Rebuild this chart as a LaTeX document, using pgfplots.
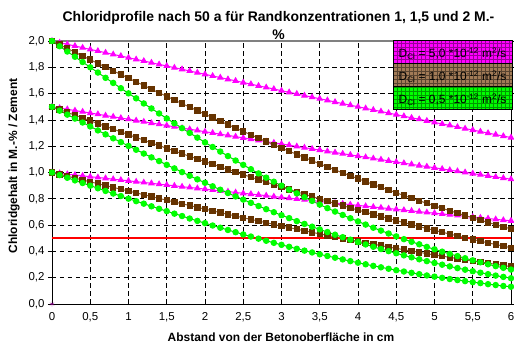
\documentclass[border=0pt]{standalone}
\usepackage{fontspec}
\setmainfont{Liberation Sans}
\usepackage{pgfplots}
\usepackage{pgfplotstable}
\pgfplotsset{compat=1.18}

\definecolor{mag}{HTML}{FF00FF}
\definecolor{brownmark}{HTML}{663300}
\definecolor{brownline}{HTML}{8B5A2B}
\definecolor{brownleg}{HTML}{A27B57}
\definecolor{grn}{HTML}{00FF00}
\definecolor{grnline}{HTML}{00D000}

% x, C0=1.0, C0=1.5, C0=2.0 for D = 5.0e-12 m2/s
\pgfplotstableread{
x   a     b     c
0.0 1.000 1.500 2.000
0.1 0.994 1.490 1.987
0.2 0.987 1.481 1.975
0.3 0.981 1.471 1.962
0.4 0.975 1.462 1.949
0.5 0.968 1.452 1.936
0.6 0.962 1.443 1.924
0.7 0.956 1.433 1.911
0.8 0.949 1.424 1.898
0.9 0.943 1.414 1.886
1.0 0.937 1.405 1.873
1.1 0.930 1.395 1.860
1.2 0.924 1.386 1.848
1.3 0.918 1.376 1.835
1.4 0.911 1.367 1.822
1.5 0.905 1.357 1.810
1.6 0.899 1.348 1.797
1.7 0.892 1.338 1.785
1.8 0.886 1.329 1.772
1.9 0.880 1.320 1.759
2.0 0.874 1.310 1.747
2.1 0.867 1.301 1.734
2.2 0.861 1.291 1.722
2.3 0.855 1.282 1.709
2.4 0.848 1.273 1.697
2.5 0.842 1.263 1.684
2.6 0.836 1.254 1.672
2.7 0.830 1.245 1.659
2.8 0.824 1.235 1.647
2.9 0.817 1.226 1.635
3.0 0.811 1.217 1.622
3.1 0.805 1.208 1.610
3.2 0.799 1.198 1.598
3.3 0.793 1.189 1.585
3.4 0.787 1.180 1.573
3.5 0.780 1.171 1.561
3.6 0.774 1.161 1.549
3.7 0.768 1.152 1.536
3.8 0.762 1.143 1.524
3.9 0.756 1.134 1.512
4.0 0.750 1.125 1.500
4.1 0.744 1.116 1.488
4.2 0.738 1.107 1.476
4.3 0.732 1.098 1.464
4.4 0.726 1.089 1.452
4.5 0.720 1.080 1.440
4.6 0.714 1.071 1.428
4.7 0.708 1.062 1.416
4.8 0.702 1.053 1.405
4.9 0.696 1.045 1.393
5.0 0.691 1.036 1.381
5.1 0.685 1.027 1.369
5.2 0.679 1.018 1.358
5.3 0.673 1.010 1.346
5.4 0.667 1.001 1.334
5.5 0.661 0.992 1.323
5.6 0.656 0.983 1.311
5.7 0.650 0.975 1.300
5.8 0.644 0.966 1.288
5.9 0.638 0.958 1.277
6.0 0.633 0.949 1.266
}\tabDfive

% D = 1.0e-12 m2/s
\pgfplotstableread{
x   a     b     c
0.0 1.000 1.500 2.000
0.1 0.986 1.479 1.972
0.2 0.972 1.457 1.943
0.3 0.957 1.436 1.915
0.4 0.943 1.415 1.886
0.5 0.929 1.394 1.858
0.6 0.915 1.372 1.830
0.7 0.901 1.351 1.802
0.8 0.887 1.330 1.773
0.9 0.873 1.309 1.745
1.0 0.859 1.288 1.717
1.1 0.845 1.267 1.689
1.2 0.831 1.246 1.662
1.3 0.817 1.225 1.634
1.4 0.803 1.205 1.606
1.5 0.789 1.184 1.579
1.6 0.776 1.164 1.551
1.7 0.762 1.143 1.524
1.8 0.749 1.123 1.497
1.9 0.735 1.103 1.470
2.0 0.722 1.083 1.443
2.1 0.708 1.063 1.417
2.2 0.695 1.043 1.390
2.3 0.682 1.023 1.364
2.4 0.669 1.004 1.338
2.5 0.656 0.984 1.312
2.6 0.643 0.965 1.287
2.7 0.631 0.946 1.261
2.8 0.618 0.927 1.236
2.9 0.606 0.908 1.211
3.0 0.593 0.890 1.186
3.1 0.581 0.871 1.162
3.2 0.569 0.853 1.138
3.3 0.557 0.835 1.114
3.4 0.545 0.817 1.090
3.5 0.533 0.800 1.066
3.6 0.522 0.782 1.043
3.7 0.510 0.765 1.020
3.8 0.499 0.748 0.997
3.9 0.487 0.731 0.975
4.0 0.476 0.714 0.953
4.1 0.465 0.698 0.931
4.2 0.455 0.682 0.909
4.3 0.444 0.666 0.888
4.4 0.433 0.650 0.867
4.5 0.423 0.634 0.846
4.6 0.413 0.619 0.825
4.7 0.403 0.604 0.805
4.8 0.393 0.589 0.785
4.9 0.383 0.574 0.766
5.0 0.373 0.560 0.747
5.1 0.364 0.546 0.728
5.2 0.355 0.532 0.709
5.3 0.345 0.518 0.691
5.4 0.336 0.504 0.673
5.5 0.327 0.491 0.655
5.6 0.319 0.478 0.637
5.7 0.310 0.465 0.620
5.8 0.302 0.453 0.603
5.9 0.293 0.440 0.587
6.0 0.285 0.428 0.571
}\tabDone

% D = 0.5e-12 m2/s
\pgfplotstableread{
x   a     b     c
0.0 1.000 1.500 2.000
0.1 0.980 1.470 1.960
0.2 0.960 1.440 1.920
0.3 0.940 1.410 1.880
0.4 0.920 1.380 1.840
0.5 0.900 1.350 1.800
0.6 0.880 1.320 1.760
0.7 0.860 1.290 1.720
0.8 0.840 1.260 1.681
0.9 0.821 1.231 1.641
1.0 0.801 1.202 1.602
1.1 0.782 1.173 1.564
1.2 0.763 1.144 1.525
1.3 0.743 1.115 1.487
1.4 0.724 1.087 1.449
1.5 0.706 1.058 1.411
1.6 0.687 1.031 1.374
1.7 0.669 1.003 1.337
1.8 0.650 0.975 1.301
1.9 0.632 0.948 1.265
2.0 0.615 0.922 1.229
2.1 0.597 0.895 1.194
2.2 0.580 0.869 1.159
2.3 0.563 0.844 1.125
2.4 0.546 0.818 1.091
2.5 0.529 0.794 1.058
2.6 0.513 0.769 1.025
2.7 0.497 0.745 0.993
2.8 0.481 0.721 0.961
2.9 0.465 0.698 0.930
3.0 0.450 0.675 0.900
3.1 0.435 0.653 0.870
3.2 0.420 0.630 0.841
3.3 0.406 0.609 0.812
3.4 0.392 0.588 0.784
3.5 0.378 0.567 0.756
3.6 0.365 0.547 0.729
3.7 0.352 0.527 0.703
3.8 0.339 0.508 0.677
3.9 0.326 0.489 0.652
4.0 0.314 0.471 0.628
4.1 0.302 0.453 0.604
4.2 0.290 0.435 0.580
4.3 0.279 0.418 0.558
4.4 0.268 0.402 0.536
4.5 0.257 0.386 0.514
4.6 0.247 0.370 0.493
4.7 0.237 0.355 0.473
4.8 0.227 0.340 0.454
4.9 0.217 0.326 0.434
5.0 0.208 0.312 0.416
5.1 0.199 0.299 0.398
5.2 0.190 0.286 0.381
5.3 0.182 0.273 0.364
5.4 0.174 0.261 0.348
5.5 0.166 0.249 0.332
5.6 0.159 0.238 0.317
5.7 0.151 0.227 0.302
5.8 0.144 0.216 0.288
5.9 0.137 0.206 0.275
6.0 0.131 0.196 0.262
}\tabDhalf

\begin{document}
\begin{tikzpicture}[x=1bp,y=1bp]
\begin{axis}[
  at={(0,0)}, anchor=south west,
  scale only axis, width=459bp, height=263bp,
  xmin=0, xmax=6, ymin=0, ymax=2,
  xtick={0,0.5,1,1.5,2,2.5,3,3.5,4,4.5,5,5.5,6},
  ytick={0,0.2,0.4,0.6,0.8,1.0,1.2,1.4,1.6,1.8,2.0},
  grid=major,
  grid style={black, dash pattern=on 4.5bp off 3.5bp, line width=0.6bp},
  axis line style={black, line width=0.9bp},
  xtick style={draw=none},
  ytick style={black, line width=0.7bp},
  tick align=outside, major tick length=4bp,
  tick label style={font=\fontsize{11.5}{13}\selectfont},
  /pgf/number format/assume math mode=true,
  xticklabel style={yshift=-1bp, /pgf/number format/.cd, use comma, 1000 sep={}},
  yticklabel style={xshift=0bp, /pgf/number format/.cd, use comma, fixed, fixed zerofill, precision=1},
]
% D = 5.0
\addplot[mag, line width=1bp, mark=triangle*, mark size=3bp, mark options={fill=mag, draw=mag}] table[x=x,y=c]{\tabDfive};
\addplot[mag, line width=1bp, mark=triangle*, mark size=3bp, mark options={fill=mag, draw=mag}] table[x=x,y=b]{\tabDfive};
\addplot[mag, line width=1bp, mark=triangle*, mark size=3bp, mark options={fill=mag, draw=mag}] table[x=x,y=a]{\tabDfive};
% D = 1.0
\addplot[brownline, line width=1bp, mark=square*, mark size=2.7bp, mark options={fill=brownmark, draw=brownmark}] table[x=x,y=c]{\tabDone};
\addplot[brownline, line width=1bp, mark=square*, mark size=2.7bp, mark options={fill=brownmark, draw=brownmark}] table[x=x,y=b]{\tabDone};
\addplot[brownline, line width=1bp, mark=square*, mark size=2.7bp, mark options={fill=brownmark, draw=brownmark}] table[x=x,y=a]{\tabDone};
% D = 0.5
\addplot[grnline, line width=1bp, mark=*, mark size=2.7bp, mark options={fill=grn, draw=grn}] table[x=x,y=c]{\tabDhalf};
\addplot[grnline, line width=1bp, mark=*, mark size=2.7bp, mark options={fill=grn, draw=grn}] table[x=x,y=b]{\tabDhalf};
\addplot[grnline, line width=1bp, mark=*, mark size=2.7bp, mark options={fill=grn, draw=grn}] table[x=x,y=a]{\tabDhalf};
% threshold
\addplot[red, line width=2bp] coordinates {(0,0.5) (6,0.5)};
\addplot[only marks, mark=asterisk, mark size=2.5bp, violet] coordinates {(0,0)};
\draw[gray, line width=1.5bp] (rel axis cs:0,1) -- (rel axis cs:1,1);
\end{axis}
% title
\node[anchor=base, font=\fontsize{14}{16}\selectfont\bfseries] at (226.5bp,282bp) {Chloridprofile nach 50 a für Randkonzentrationen 1, 1,5 und 2 M.-};
\node[anchor=base, font=\fontsize{14}{16}\selectfont\bfseries] at (226.5bp,264bp) {\%};
% axis labels
\node[anchor=base, font=\fontsize{12}{14}\selectfont\bfseries] at (229bp,-37bp) {Abstand von der Betonoberfläche in cm};
\node[rotate=90, font=\fontsize{12}{14}\selectfont\bfseries] at (-38bp,138bp) {Chloridgehalt in M.-\% / Zement};
% legend
\begin{scope}[font=\fontsize{12}{14}\selectfont]
\fill[mag] (341bp,241bp) rectangle (460bp,264bp);
\draw[mag!60!black, line width=0.4bp, step=4bp, shift={(1bp,1bp)}] (340bp,240bp) grid (459bp,263bp);
\draw[black, line width=0.8bp] (341bp,241bp) rectangle (460bp,264bp);
\node[anchor=base] at (400.5bp,246.5bp) {D\textsubscript{Cl} = 5,0 *10\textsuperscript{-12} m\textsuperscript{2}/s};
\fill[brownleg] (341bp,218bp) rectangle (460bp,241bp);
\draw[brownleg!55!black, line width=0.4bp, step=4bp, shift={(1bp,1bp)}] (340bp,217bp) grid (459bp,240bp);
\draw[black, line width=0.8bp] (341bp,218bp) rectangle (460bp,241bp);
\node[anchor=base] at (400.5bp,223.5bp) {D\textsubscript{Cl} = 1,0 *10\textsuperscript{-12} m\textsuperscript{2}/s};
\fill[grn] (341bp,195bp) rectangle (460bp,218bp);
\draw[grn!60!black, line width=0.4bp, step=4bp, shift={(1bp,1bp)}] (340bp,194bp) grid (459bp,217bp);
\draw[black, line width=0.8bp] (341bp,195bp) rectangle (460bp,218bp);
\node[anchor=base] at (400.5bp,200.5bp) {D\textsubscript{Cl} = 0,5 *10\textsuperscript{-12} m\textsuperscript{2}/s};
\end{scope}
\pgfresetboundingbox
\path[use as bounding box] (-52bp,-38bp) rectangle (462bp,304bp);
\end{tikzpicture}
\end{document}
